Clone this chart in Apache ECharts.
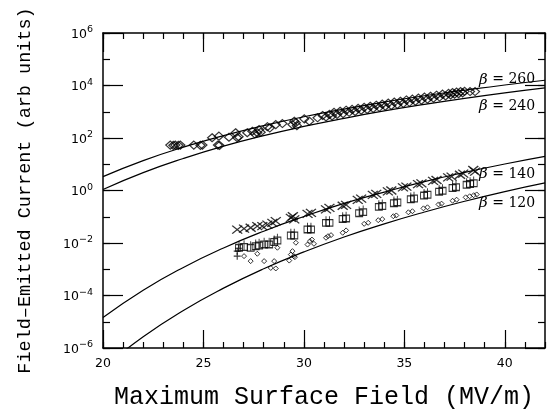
<!DOCTYPE html>
<html>
<head>
<meta charset="utf-8">
<script src="https://cdn.jsdelivr.net/npm/echarts@6/dist/echarts.min.js"></script>
<style>
  html, body { margin: 0; padding: 0; background: #fff; }
  #chart { width: 555px; height: 414px; }
</style>
</head>
<body>
<div id="chart"></div>
<script>
// ---- Data (field in MV/m, current as log10 of arb units) ----
const curveField = [20, 22, 24, 26, 28, 30, 32, 34, 36, 38, 40, 42];
const beta260LogI = [0.53, 1.14, 1.65, 2.09, 2.47, 2.81, 3.10, 3.37, 3.61, 3.82, 4.02, 4.20];
const beta240LogI = [0.04, 0.68, 1.22, 1.69, 2.09, 2.44, 2.75, 3.03, 3.28, 3.51, 3.72, 3.91];
const beta140LogI = [-4.84, -3.80, -2.93, -2.19, -1.55, -0.99, -0.49, -0.06, 0.34, 0.69, 1.01, 1.30];
const beta120LogI = [-6.77, -5.57, -4.57, -3.72, -2.98, -2.34, -1.77, -1.27, -0.82, -0.41, -0.04, 0.29];

const curveLabels = ['260', '240', '140', '120'];
const curveLabelField = [38.72, 38.72, 38.72, 38.72];
const curveLabelLogI = [4.22, 3.20, 0.62, -0.48];

// [field, log10 current]
const upperDiamonds = [
  [23.35,1.73],[23.5,1.72],[23.6,1.73],[23.75,1.72],[23.85,1.73],[24.52,1.73],[24.85,1.72],[24.95,1.73],
  [25.43,2.01],[25.77,2.07],[25.72,1.73],[25.8,1.72],[26.27,2.03],[26.6,2.20],[26.68,2.01],[26.75,2.05],
  [27.18,2.20],[27.43,2.26],[27.55,2.16],[27.68,2.20],[27.77,2.32],[27.85,2.22],[28.18,2.43],[28.3,2.38],
  [28.6,2.51],[28.93,2.55],[29.43,2.51],[29.52,2.64],[29.6,2.58],[29.65,2.47],[30.02,2.73],[30.27,2.64],
  [30.68,2.77],[30.93,2.86],[31.1,2.80],[31.27,2.90],[31.4,2.84],
  [31.5,2.98],[31.65,2.90],[31.8,3.02],[31.95,2.93],[32.1,3.06],[32.25,2.98],[32.4,3.09],[32.55,3.01],
  [32.7,3.13],[32.85,3.06],[33.0,3.17],[33.15,3.09],[33.3,3.21],[33.45,3.13],[33.6,3.25],[33.75,3.17],
  [33.9,3.29],[34.05,3.21],[34.2,3.33],[34.35,3.24],[34.5,3.37],[34.65,3.28],[34.8,3.40],[34.95,3.32],
  [35.1,3.45],[35.25,3.36],[35.4,3.48],[35.55,3.40],[35.7,3.52],[35.85,3.44],[36.0,3.56],[36.15,3.48],
  [36.3,3.59],[36.45,3.52],[36.6,3.63],[36.75,3.56],[36.9,3.67],[37.05,3.60],[37.2,3.70],[37.3,3.64],
  [37.4,3.73],[37.5,3.67],[37.6,3.75],[37.7,3.69],[37.8,3.77],[37.9,3.72],[38.0,3.78],[38.27,3.77],[38.52,3.77]
];
const crosses = [
  [26.68,-1.49],[27.02,-1.45],[27.35,-1.42],[27.68,-1.36],[27.93,-1.36],[28.18,-1.30],[28.43,-1.23],[28.6,-1.17],
  [29.35,-1.04],[29.45,-0.98],[29.52,-1.10],[30.18,-0.89],[30.35,-0.85],[31.1,-0.72],[31.27,-0.66],
  [31.93,-0.58],[32.1,-0.55],[32.68,-0.36],[32.85,-0.31],[33.43,-0.17],[33.6,-0.13],[34.18,-0.03],[34.35,0.0],
  [34.93,0.12],[35.1,0.15],[35.68,0.24],[35.85,0.27],[36.43,0.37],[36.6,0.40],[37.18,0.50],[37.35,0.53],
  [37.77,0.60],[37.93,0.64],[38.43,0.78],[38.52,0.72]
];
const squares = [
  [26.77,-2.12],[27.02,-2.09],[27.35,-2.12],[27.6,-2.06],[27.77,-2.03],[28.02,-1.99],[28.27,-1.99],[28.52,-1.90],
  [28.68,-1.84],[29.35,-1.65],[29.52,-1.65],[30.18,-1.42],[30.35,-1.42],[31.1,-1.17],[31.27,-1.17],
  [31.93,-1.02],[32.1,-1.00],[32.75,-0.80],[32.95,-0.76],[33.73,-0.56],[33.9,-0.53],[34.48,-0.42],[34.65,-0.39],
  [35.32,-0.27],[35.48,-0.24],[35.98,-0.13],[36.15,-0.10],[36.73,0.02],[36.9,0.05],[37.4,0.16],[37.57,0.19],
  [38.1,0.28],[38.27,0.31],[38.45,0.34]
];
const plusses = [[26.68,-2.31],[26.68,-2.50],[26.75,-2.20]];
const smallDiamonds = [
  [27.02,-2.50],[27.35,-2.69],[27.68,-2.41],[28.02,-2.69],[28.35,-2.95],[28.52,-2.69],[28.6,-2.97],[28.68,-2.18],
  [29.27,-2.67],[29.35,-2.44],[29.43,-2.31],[29.5,-2.50],[29.55,-2.54],[29.6,-1.99],[30.18,-2.06],[30.3,-1.93],
  [30.4,-1.87],[30.5,-2.03],[31.1,-1.80],[31.2,-1.74],[31.35,-1.70],[31.93,-1.61],[32.1,-1.52],[33.0,-1.27],
  [33.2,-1.23],[33.7,-1.13],[33.9,-1.09],[34.45,-0.98],[34.6,-0.95],[35.2,-0.83],[35.4,-0.79],[35.95,-0.68],
  [36.15,-0.64],[36.7,-0.53],[36.85,-0.50],[37.4,-0.39],[37.6,-0.35],[38.05,-0.26],[38.25,-0.22],[38.45,-0.18],
  [38.6,-0.15]
];

const xTicksMajor = 5, xTicksMinor = 1;
const yExpMajor = 2, yExpMinor = 1;

// ---- Build ----
const toPts = arr => arr.map(p => [p[0], Math.pow(10, p[1])]);
const curvePts = logs => curveField.map((e, i) => [e, Math.pow(10, logs[i])]);

const serifFont = 'DejaVu Serif';
const monoFont = 'Liberation Mono';
const tickFont = 'DejaVu Sans';
const black = '#000';

function curveSeries(logs, idx) {
  return {
    type: 'line', xAxisIndex: 0, yAxisIndex: 0,
    data: curvePts(logs), smooth: true, showSymbol: false, symbol: 'none',
    lineStyle: { color: black, width: 1.2 }, silent: true, z: 2,
    markPoint: {
      symbol: 'circle', symbolSize: 0, silent: true,
      data: [{ coord: [curveLabelField[idx], Math.pow(10, curveLabelLogI[idx])] }],
      label: {
        show: true, position: 'right', distance: 0,
        formatter: '{i|β} = ' + curveLabels[idx],
        color: black, fontFamily: serifFont, fontSize: 14,
        rich: { i: { fontStyle: 'italic', fontFamily: serifFont, fontSize: 15, color: black } }
      }
    }
  };
}

function scatterSeries(arr, symbol, size, bw) {
  return {
    type: 'scatter', xAxisIndex: 0, yAxisIndex: 0,
    data: toPts(arr), symbol: symbol, symbolSize: size, silent: true, z: 4,
    itemStyle: { color: 'transparent', borderColor: black, borderWidth: bw }
  };
}

const hiddenAxisParts = { axisLine: { show: false, onZero: false }, axisTick: { show: false }, axisLabel: { show: false }, splitLine: { show: false } };
const frameLine = { show: true, onZero: false, lineStyle: { color: black, width: 1.5 } };
const noLine = { show: false, onZero: false };

function xAx(pos, interval, len, withLine, withLabels) {
  return {
    type: 'value', min: 20, max: 42, interval: interval, position: pos,
    axisLine: withLine ? frameLine : noLine,
    axisTick: { show: true, inside: true, length: len, lineStyle: { color: black, width: 1.2 } },
    axisLabel: withLabels ? { show: true, margin: 9, color: black, fontFamily: tickFont, fontSize: 12.5, showMaxLabel: false } : { show: false },
    splitLine: { show: false }
  };
}
function yAx(pos, interval, len, withLine, withLabels) {
  return {
    type: 'value', min: -6, max: 6, interval: interval, position: pos,
    axisLine: withLine ? frameLine : noLine,
    axisTick: { show: true, inside: true, length: len, lineStyle: { color: black, width: 1.2 } },
    axisLabel: withLabels ? {
      show: true, margin: 10,
      formatter: v => '{b|10}{s|' + (v < 0 ? '\u2212' + (-v) : String(v)) + '}',
      rich: {
        b: { fontFamily: tickFont, fontSize: 12.5, color: black, lineHeight: 16, verticalAlign: 'bottom' },
        s: { fontFamily: tickFont, fontSize: 9.5, color: black, lineHeight: 10, verticalAlign: 'top' }
      }
    } : { show: false },
    splitLine: { show: false }
  };
}

const xMain = xAx('bottom', xTicksMajor, 18, true, true);
xMain.name = 'Maximum Surface Field (MV/m)';
xMain.nameLocation = 'middle';
xMain.nameGap = 37;
xMain.nameTextStyle = { fontFamily: monoFont, fontSize: 25, color: black };

const yMain = yAx('left', yExpMajor, 20, true, true);
yMain.name = 'Field\u2013Emitted Current (arb units)';
yMain.nameLocation = 'middle';
yMain.nameGap = 68;
yMain.nameRotate = 90;
yMain.nameTextStyle = { fontFamily: monoFont, fontSize: 18.5, color: black };

const option = {
  backgroundColor: '#fff',
  animation: false,
  grid: { left: 103, right: 10, top: 33, bottom: 66, containLabel: false, outerBoundsMode: 'none' },
  xAxis: [
    xMain,
    xAx('bottom', xTicksMinor, 6, false, false),
    xAx('top', xTicksMajor, 19, true, false),
    xAx('top', xTicksMinor, 6, false, false)
  ],
  yAxis: [
    Object.assign({ type: 'log', logBase: 10, min: 1e-6, max: 1e6 }, hiddenAxisParts),
    yMain,
    yAx('left', yExpMinor, 7, false, false),
    yAx('right', yExpMajor, 20, true, false),
    yAx('right', yExpMinor, 7, false, false)
  ],
  series: [
    curveSeries(beta260LogI, 0),
    curveSeries(beta240LogI, 1),
    curveSeries(beta140LogI, 2),
    curveSeries(beta120LogI, 3),
    scatterSeries(upperDiamonds, 'diamond', [9, 8], 1.2),
    scatterSeries(crosses, 'path://M0,0L10,8M10,0L0,8', [10, 8], 1.3),
    scatterSeries(squares, 'path://M0,4L8,4L8,12L0,12ZM4,0L4,12', [7, 10], 1.1),
    scatterSeries(plusses, 'path://M4,0L4,8M0,4L8,4', [7, 7], 1.1),
    scatterSeries(smallDiamonds, 'diamond', [5, 5], 1)
  ]
};

const chart = echarts.init(document.getElementById('chart'), null, { renderer: 'canvas' });
chart.setOption(option);
</script>
</body>
</html>
